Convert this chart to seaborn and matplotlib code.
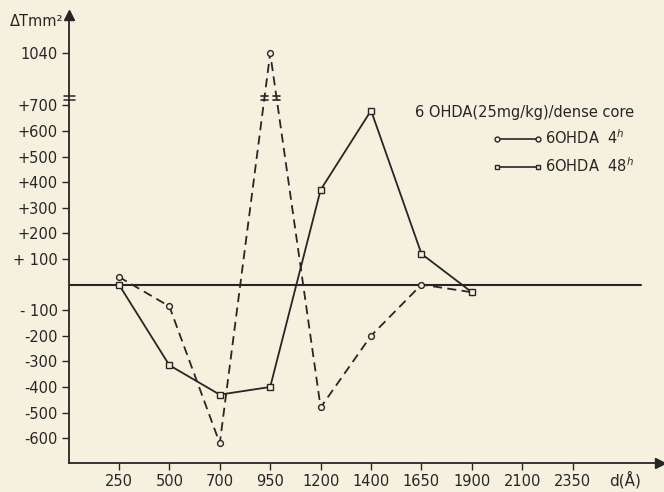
import numpy as np
import pandas as pd
import matplotlib
matplotlib.use("Agg")
import matplotlib.pyplot as plt
from matplotlib.lines import Line2D
import seaborn as sns

# ---- data ----
categories = ['250', '500', '700', '950', '1200', '1400', '1650', '1900', '2100', '2350']
h4_values = [30, -85, -620, 1040, -480, -200, 0, -30]
h48_values = [0, -315, -430, -400, 370, 680, 120, -30]
ytick_values = [1040, 700, 600, 500, 400, 300, 200, 100, -100, -200, -300, -400, -500, -600]
ytick_labels = ['1040', '+700', '+600', '+500', '+400', '+300', '+200', '+ 100',
                '- 100', '-200', '-300', '-400', '-500', '-600']
legend_title = '6 OHDA(25mg/kg)/dense core'
label_4h = '6OHDA  4$^{h}$'
label_48h = '6OHDA  48$^{h}$'

BG = '#f6f1de'
INK = '#262626'

sns.set_theme(style='white')
plt.rcParams['font.family'] = ['DejaVu Sans']
plt.rcParams['axes.facecolor'] = BG
plt.rcParams['figure.facecolor'] = BG

# broken (compressed) y-scale above the break
BREAK = 730.0
K = 0.561

def fwd(v):
    v = np.asarray(v, dtype=float)
    return np.where(v <= BREAK, v, BREAK + (v - BREAK) * K)

def inv(p):
    p = np.asarray(p, dtype=float)
    return np.where(p <= BREAK, p, BREAK + (p - BREAK) / K)

fig = plt.figure(figsize=(6.64, 4.92), dpi=100)
ax = fig.add_axes([69 / 664, (492 - 463) / 492, 591 / 664, 448 / 492])
ax.set_yscale('function', functions=(fwd, inv))

df4 = pd.DataFrame({'x': np.arange(len(h4_values)), 'y': h4_values})
df48 = pd.DataFrame({'x': np.arange(len(h48_values)), 'y': h48_values})

sns.lineplot(data=df4, x='x', y='y', ax=ax, color=INK, lw=1.3,
             marker='o', markersize=4.2, markerfacecolor=BG, markeredgecolor=INK,
             markeredgewidth=1.0, linestyle=(0, (5, 3)), zorder=3)
sns.lineplot(data=df48, x='x', y='y', ax=ax, color=INK, lw=1.3,
             marker='s', markersize=4.5, markerfacecolor=BG, markeredgecolor=INK,
             markeredgewidth=1.0, zorder=3)

ax.axhline(0, xmin=0, xmax=(641 - 69) / 591, color=INK, lw=1.5, zorder=2)

ax.set_xlim(-0.99, 10.73)
ax.set_ylim(-697, 1306)
ax.set_xticks(range(len(categories)))
ax.set_xticklabels(categories)
ax.set_yticks(ytick_values)
ax.set_yticklabels(ytick_labels)
ax.yaxis.set_minor_locator(matplotlib.ticker.NullLocator())
ax.tick_params(axis='both', direction='out', length=5, width=1.0, color=INK,
               labelsize=10.5, labelcolor=INK, pad=3, left=True, bottom=True)
for s in ['top', 'right']:
    ax.spines[s].set_visible(False)
for s in ['left', 'bottom']:
    ax.spines[s].set_color(INK)
    ax.spines[s].set_linewidth(1.3)
ax.grid(False)

ax.set_xlabel('d(Å)', fontsize=11, color=INK)
ax.xaxis.set_label_coords((625 - 69) / 591, -0.018)
ax.xaxis.label.set_va('top')
ax.set_ylabel('')

# axis arrows
ax.plot([0], [1], marker='^', ms=7, color=INK, transform=ax.transAxes, clip_on=False)
ax.plot([1], [0], marker='>', ms=7, color=INK, transform=ax.transAxes, clip_on=False)

# axis break marks
for yb in (722, 745):
    ax.plot([-1.09, -0.87], [yb, yb], color=INK, lw=1.1, clip_on=False)

# break marks on the dashed segments around the peak
i = h4_values.index(max(h4_values))
pk = float(fwd(h4_values[i]))
for j in (i - 1, i + 1):
    p0 = float(fwd(h4_values[j]))
    t = (pk - BREAK) / (pk - p0)
    xc = i + (j - i) * t
    for yb in (722, 745):
        ax.plot([xc - 0.075, xc + 0.075], [yb, yb], color=INK, lw=1.2)

# y label
fig.text(10 / 664, 1 - 22 / 492, 'ΔTmm²', fontsize=10.5, color=INK, va='center', ha='left')

# legend
handles = [
    Line2D([], [], color=INK, lw=1.2, marker='o', ms=3.5, mfc=BG, mec=INK),
    Line2D([], [], color=INK, lw=1.2, marker='s', ms=3.5, mfc=BG, mec=INK),
]
leg = ax.legend(handles, [label_4h, label_48h], title=legend_title, numpoints=2,
                loc='upper right', bbox_to_anchor=((640 - 69) / 591, 1 - (99 - 15) / 448),
                frameon=False, fontsize=10.5, title_fontsize=10.5, handlelength=3.4,
                handletextpad=0.2, labelspacing=0.6, alignment='right', borderaxespad=0)
for t in leg.get_texts():
    t.set_color(INK)
leg.get_title().set_color(INK)

fig.savefig('out.png', dpi=100, facecolor=BG)
